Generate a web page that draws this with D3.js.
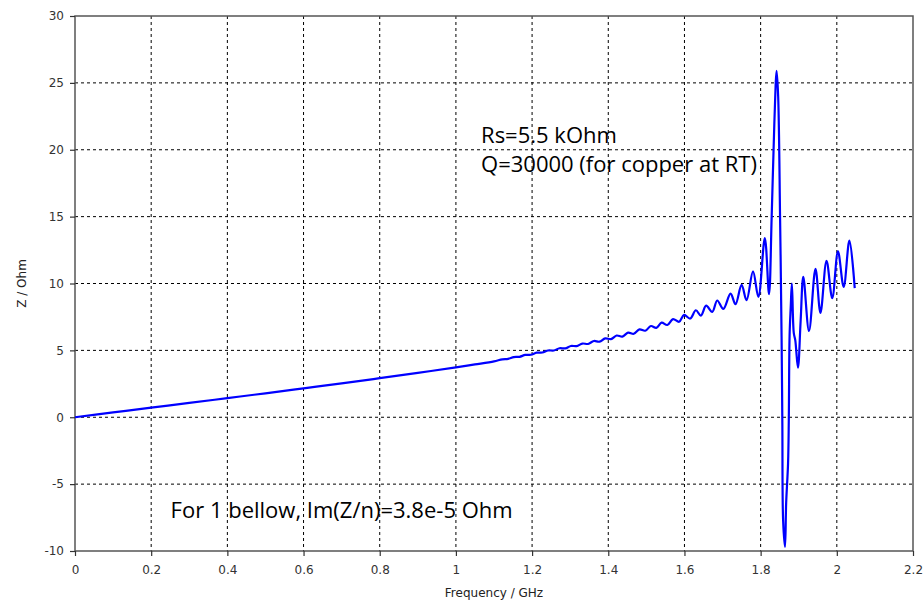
<!DOCTYPE html>
<html>
<head>
<meta charset="utf-8">
<script src="https://cdn.jsdelivr.net/npm/d3@7"></script>
<style>
	body { margin: 0; background: #fff; }
	.tick text { font-family: 'DejaVu Sans', sans-serif; font-size: 12px; fill: #333; }
	.note { font-family: 'Open Sans', sans-serif; font-size: 22px; fill: #000; }
	.axis_label { font-family: 'DejaVu Sans', sans-serif; font-size: 12px; fill: #222; }
</style>
</head>
<body>
<svg id="chart" width="923" height="606"></svg>
<script>
// frequency in GHz and impedance in Ohm
let freq = [0, 0.1, 0.2, 0.3, 0.4, 0.5, 0.6, 0.7, 0.8, 0.9, 1.0, 1.05, 1.1,
	1.122, 1.137, 1.152, 1.167, 1.182, 1.197, 1.212, 1.227, 1.242, 1.257,
	1.272, 1.287, 1.302, 1.317, 1.332, 1.347, 1.362, 1.377, 1.392, 1.407,
	1.422, 1.437, 1.452, 1.467, 1.482, 1.497, 1.512, 1.526, 1.540, 1.555,
	1.570, 1.586, 1.599, 1.615, 1.630, 1.643, 1.657, 1.673, 1.686, 1.702,
	1.721, 1.734, 1.750, 1.763, 1.780, 1.794, 1.811, 1.822, 1.829, 1.836,
	1.842, 1.846, 1.851, 1.855, 1.857, 1.859, 1.864, 1.867, 1.872, 1.874,
	1.876, 1.879, 1.882, 1.887, 1.891, 1.898, 1.905, 1.912, 1.927, 1.944,
	1.957, 1.973, 1.988, 2.003, 2.018, 2.033, 2.047]
let zOhm = [0, 0.36, 0.72, 1.07, 1.43, 1.79, 2.16, 2.53, 2.92, 3.32, 3.73, 3.95, 4.18,
	4.33, 4.37, 4.50, 4.52, 4.66, 4.67, 4.83, 4.84, 4.99, 4.99,
	5.16, 5.15, 5.33, 5.32, 5.51, 5.48, 5.70, 5.65, 5.90, 5.84,
	6.11, 6.03, 6.33, 6.24, 6.57, 6.47, 6.82, 6.68, 7.07, 6.90,
	7.34, 7.14, 7.65, 7.38, 8.00, 7.60, 8.34, 7.88, 8.73, 8.10,
	9.25, 8.45, 9.90, 8.75, 10.9, 9.0, 13.4, 9.2, 15.0, 22.0,
	25.9, 24.0, 15.0, 6.0, -0.5, -7.7, -9.7, -6.4, -3.45, 0,
	6.1, 8.25, 10.0, 6.3, 5.75, 3.7, 7.2, 10.5, 6.45, 11.1,
	7.8, 11.7, 8.9, 12.4, 9.75, 13.2, 9.65]

let xTicks = [0, 0.2, 0.4, 0.6, 0.8, 1, 1.2, 1.4, 1.6, 1.8, 2, 2.2]
let yTicks = [-10, -5, 0, 5, 10, 15, 20, 25, 30]

let notes = [
	{text: 'Rs=5.5 kOhm', f: 1.066, z: 20.5},
	{text: 'Q=30000 (for copper at RT)', f: 1.066, z: 18.3},
	{text: 'For 1 bellow, Im(Z/n)=3.8e-5 Ohm', f: 0.251, z: -7.5}
]

document.addEventListener('DOMContentLoaded', function(event) {
	const svg = d3.select('#chart')
	const left = 75, right = 913, top = 16, bottom = 551

	const x = d3.scaleLinear().domain([0, 2.2]).range([left, right])
	const y = d3.scaleLinear().domain([-10, 30]).range([bottom, top])

	// dashed grid
	const grid = svg.append('g')
	grid.selectAll('line.vx')
		.data(xTicks.filter(d => d > 0 && d < 2.2))
		.enter().append('line')
		.attr('x1', d => x(d)).attr('x2', d => x(d))
		.attr('y1', top).attr('y2', bottom)
		.attr('stroke', '#000').attr('stroke-width', 1)
		.attr('stroke-dasharray', '3,3')
	grid.selectAll('line.hy')
		.data(yTicks.filter(d => d > -10 && d < 30))
		.enter().append('line')
		.attr('y1', d => y(d)).attr('y2', d => y(d))
		.attr('x1', left).attr('x2', right)
		.attr('stroke', '#000').attr('stroke-width', 1)
		.attr('stroke-dasharray', '3,3')

	// frame
	svg.append('rect')
		.attr('x', left).attr('y', top)
		.attr('width', right - left).attr('height', bottom - top)
		.attr('fill', 'none').attr('stroke', '#555').attr('stroke-width', 1.5)

	const xAxis = svg.append('g')
		.attr('transform', `translate(0,${bottom})`)
		.call(d3.axisBottom(x).tickValues(xTicks).tickFormat(d3.format('~g')).tickSize(5).tickPadding(9))
	const yAxis = svg.append('g')
		.attr('transform', `translate(${left},0)`)
		.call(d3.axisLeft(y).tickValues(yTicks).tickSize(5).tickPadding(6))
	for (const ax of [xAxis, yAxis]) {
		ax.select('.domain').remove()
		ax.selectAll('.tick line').attr('stroke', '#333').attr('stroke-width', 1.2)
	}
	yAxis.selectAll('.tick text').text(d => d < 0 ? '-' + Math.abs(d) : d)

	// curve
	let pts = freq.map((f, i) => [f, zOhm[i]])
	svg.append('path')
		.datum(pts)
		.attr('fill', 'none')
		.attr('stroke', '#0000ff')
		.attr('stroke-width', 2.2)
		.attr('stroke-linejoin', 'round')
		.attr('d', d3.line().x(d => x(d[0])).y(d => y(d[1])).curve(d3.curveCatmullRom.alpha(0.5)))

	svg.selectAll('text.note')
		.data(notes)
		.enter().append('text')
		.attr('class', 'note')
		.attr('x', d => x(d.f))
		.attr('y', d => y(d.z))
		.text(d => d.text)

	svg.append('text')
		.attr('class', 'axis_label')
		.attr('text-anchor', 'middle')
		.attr('x', (left + right) / 2).attr('y', 597)
		.text('Frequency / GHz')
	svg.append('text')
		.attr('class', 'axis_label')
		.attr('text-anchor', 'middle')
		.attr('transform', `translate(26,${(top + bottom) / 2}) rotate(-90)`)
		.text('Z / Ohm')
})
</script>
</body>
</html>
